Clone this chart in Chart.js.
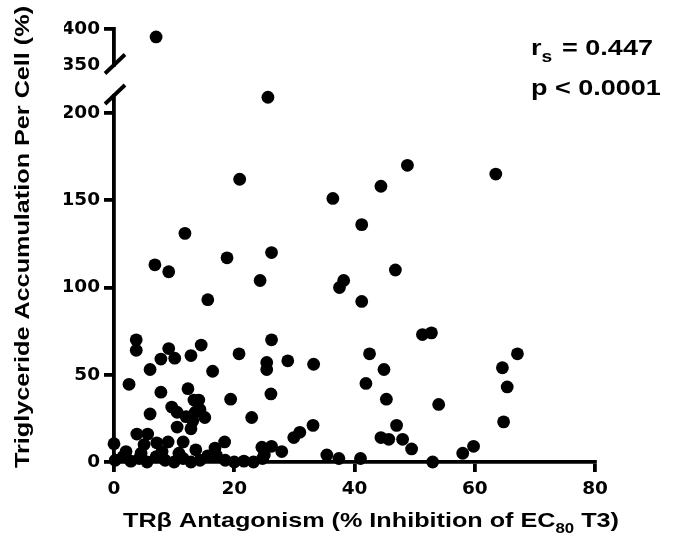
<!DOCTYPE html>
<html>
<head>
<meta charset="utf-8">
<script src="https://cdn.jsdelivr.net/npm/chart.js@4/dist/chart.umd.min.js"></script>
<style>
  body { margin: 0; background: #fff; }
  canvas { display: block; }
</style>
</head>
<body>
<canvas id="scatter" width="684" height="545"></canvas>
<script>
// % inhibition of EC80 T3 vs triglyceride accumulation (lower segment, 0-210)
const antagonism = [25.6, 20.9, 11.8, 48.8, 44.4, 36.4, 41.2, 63.5, 26.2, 18.8,
    24.3, 38.2, 37.5, 46.8, 41.2, 15.6, 6.8, 9.1, 51.3, 52.8,
    28.9, 33.2, 42.5, 44.9, 41.9, 45.3, 54.0, 47.0, 33.1, 30.9,
    29.9, 44.4, 45.7, 48.0, 49.5, 27.9, 35.4, 37.4, 41.0, 53.0,
    58.0, 59.8, 67.1, 64.6, 65.4, 64.8, 3.7, 3.7, 9.1, 10.1,
    7.8, 12.8, 14.5, 20.8, 26.2, 25.4, 25.4, 6.0, 16.4, 2.5,
    7.8, 12.3, 13.3, 14.1, 19.4, 26.1, 9.6, 10.5, 12.0, 13.5,
    14.3, 15.1, 6.0, 22.9, 10.5, 12.8, 13.1, 3.8, 5.6, 5.0,
    7.1, 9.0, 11.5, 13.6, 16.8, 18.4, 24.6, 26.2, 0.0, 0.2,
    1.5, 2.8, 4.2, 5.5, 7.0, 8.5, 10.0, 11.5, 12.8, 14.3,
    15.6, 17.0, 18.5, 20.0, 21.6, 23.2, 24.7, 25.0, 2.0, 4.5,
    8.0, 10.8];
const triglyceride = [209, 162, 131, 170, 158, 151, 136, 165, 120, 117,
    104, 104, 100, 110, 92, 93, 113, 109, 73, 74,
    58, 56, 62, 53, 45, 36, 33, 21, 21, 17,
    14, 14, 13, 13, 7.5, 6, 4, 2, 2, 0,
    5, 9, 62, 54, 43, 23, 70, 64, 65, 59.5,
    59, 61, 67, 62, 70, 57, 53, 53, 52, 44.5,
    40, 42, 35.5, 35.5, 36, 39, 31.5, 28.5, 26, 28.5,
    30, 25.5, 27.5, 25.5, 20, 19, 23.5, 16, 16, 10,
    11, 11.5, 11.5, 7, 8, 11.5, 8.5, 9, 10.5, 1,
    3, 0.5, 2, 0, 3, 1, 0, 2, 0, 1,
    3.5, 4, 1, 0, 0.5, 0, 2, 4, 6, 5,
    6, 5];
// the single point above the axis break
const antagonismHigh = [7.0];
const triglycerideHigh = [389];

const xTicks = [0, 20, 40, 60, 80];
const lowerTicks = [0, 50, 100, 150, 200];
const upperTicks = [350, 400];

const tickFont = { family: '"DejaVu Sans", sans-serif', size: 18.5, weight: 'bold' };
const labelFont = '"Liberation Sans", Arial, sans-serif';
const stretch = 1.2;

function toPoints(xs, ys) {
    return xs.map((x, i) => ({ x: x, y: ys[i] }));
}

function fixedTicks(list) {
    return function (scale) {
        scale.ticks = list.map(v => ({ value: v }));
    };
}

function axisStyle(extra) {
    return Object.assign({
        grid: {
            drawOnChartArea: false,
            drawTicks: true,
            tickLength: 10,
            lineWidth: 3.8,
            color: '#000'
        },
        border: { display: true, color: '#000', width: 3.8 },
        ticks: { font: tickFont, color: '#000', padding: 4, autoSkip: false }
    }, extra);
}

// draws a run of text pieces (for subscripts) stretched horizontally
function drawRuns(ctx, runs, align) {
    let total = 0;
    runs.forEach(r => {
        ctx.font = 'bold ' + r.size + 'px ' + labelFont;
        r.w = ctx.measureText(r.t).width + (r.gap || 0);
        total += r.w;
    });
    let x = align === 'left' ? 0 : -total / 2;
    ctx.textAlign = 'left';
    ctx.textBaseline = 'alphabetic';
    runs.forEach(r => {
        ctx.font = 'bold ' + r.size + 'px ' + labelFont;
        ctx.fillText(r.t, x + (r.gap || 0), r.dy || 0);
        x += r.w;
    });
}

const breakAndLabels = {
    id: 'breakAndLabels',
    afterDraw(chart) {
        const ctx = chart.ctx;
        const ax = chart.chartArea.left;
        const ends = [chart.scales.yTop.bottom, chart.scales.y.top];
        ctx.save();
        ctx.strokeStyle = '#000';
        ctx.lineWidth = 3.8;
        ends.forEach(yb => {
            ctx.beginPath();
            ctx.moveTo(ax - 9, yb + 8.5);
            ctx.lineTo(ax + 11, yb - 10.5);
            ctx.stroke();
        });
        ctx.fillStyle = '#000';

        // y title
        ctx.save();
        ctx.translate(28.5, 237);
        ctx.rotate(-Math.PI / 2);
        ctx.scale(stretch, 1);
        drawRuns(ctx, [{ t: 'Triglyceride Accumulation Per Cell (%)', size: 21 }]);
        ctx.restore();

        // x title
        ctx.save();
        ctx.translate(371, 527);
        ctx.scale(stretch, 1);
        drawRuns(ctx, [
            { t: 'TR\u03B2 Antagonism (% Inhibition of EC', size: 21 },
            { t: '80', size: 14, dy: 6 },
            { t: ' T3)', size: 21 }
        ]);
        ctx.restore();

        // statistics
        ctx.save();
        ctx.translate(531, 55);
        ctx.scale(stretch, 1);
        drawRuns(ctx, [
            { t: 'r', size: 22.5 },
            { t: 's', size: 16, dy: 7 },
            { t: ' = 0.447', size: 22.5, gap: 2 }
        ], 'left');
        ctx.restore();
        ctx.save();
        ctx.translate(531, 95);
        ctx.scale(stretch, 1);
        drawRuns(ctx, [{ t: 'p < 0.0001', size: 22.5 }], 'left');
        ctx.restore();

        ctx.restore();
    }
};

const dotStyle = {
    backgroundColor: '#000',
    borderWidth: 0,
    pointRadius: 6.4,
    pointHoverRadius: 6.4,
    clip: false
};

new Chart(document.getElementById('scatter'), {
    type: 'scatter',
    data: {
        datasets: [
            Object.assign({ label: 'low', data: toPoints(antagonism, triglyceride), yAxisID: 'y' }, dotStyle),
            Object.assign({ label: 'high', data: toPoints(antagonismHigh, triglycerideHigh), yAxisID: 'yTop' }, dotStyle)
        ]
    },
    options: {
        responsive: false,
        animation: false,
        devicePixelRatio: 1,
        layout: { padding: { left: 64, right: 89, top: 29, bottom: 0 } },
        plugins: { legend: { display: false }, tooltip: { enabled: false } },
        scales: {
            x: axisStyle({
                type: 'linear', position: 'bottom', min: 0, max: 80,
                afterBuildTicks: fixedTicks(xTicks),
                afterFit: s => { s.height = 83; },
                ticks: { font: tickFont, color: '#000', padding: 6, autoSkip: false }
            }),
            y: axisStyle({
                type: 'linear', position: 'left', min: 0, max: 210,
                stack: 'tg', stackWeight: 366.5, weight: 1,
                afterBuildTicks: fixedTicks(lowerTicks),
                afterFit: s => { s.width = 50; }
            }),
            yGap: {
                type: 'linear', position: 'left', display: false, min: 0, max: 1,
                stack: 'tg', stackWeight: 30.5, weight: 2
            },
            yTop: axisStyle({
                type: 'linear', position: 'left', min: 350, max: 400,
                stack: 'tg', stackWeight: 36, weight: 3,
                afterBuildTicks: fixedTicks(upperTicks),
                afterFit: s => { s.width = 50; },
                grid: {
                    drawOnChartArea: false, drawTicks: true, tickLength: 10, lineWidth: 3.8,
                    color: '#000',
                    tickColor: c => (c.tick && c.tick.value === 350 ? 'rgba(0,0,0,0)' : '#000')
                }
            })
        }
    },
    plugins: [breakAndLabels]
});
</script>
</body>
</html>
